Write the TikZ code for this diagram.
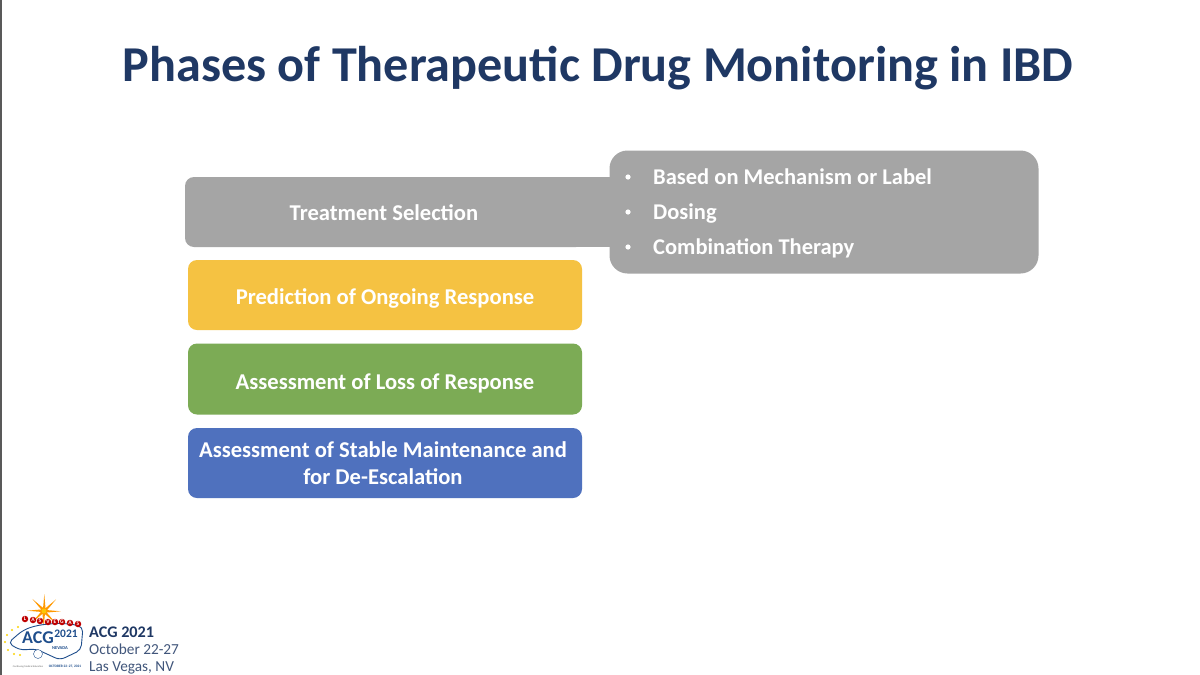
\documentclass[tikz,border=0pt]{standalone}
\usepackage{fontspec}
\setmainfont{Carlito}
\usetikzlibrary{positioning,shapes.geometric}
\definecolor{titleblue}{HTML}{1F3864}
\definecolor{boxgray}{HTML}{A5A5A5}
\definecolor{boxyellow}{HTML}{F5C242}
\definecolor{boxgreen}{HTML}{7CAB55}
\definecolor{boxblue}{HTML}{4F71BE}
\definecolor{acgblue}{HTML}{1F4E8C}
\tikzset{
	phase/.style={rounded corners=9pt, minimum width=394pt, minimum height=70pt, inner sep=0pt,
		align=center, text=white, font=\fontsize{22.6}{27.5}\selectfont\bfseries},
	oneline/.style={text depth=0pt, text height=#1},
	bulletline/.style={anchor=base west, inner sep=0pt, text=white, font=\fontsize{22.5}{25}\selectfont\bfseries},
	acgline/.style={inner sep=0pt, text=titleblue!85, font=\fontsize{15.3}{17}\selectfont},
}
\begin{document}
\begin{tikzpicture}[x=1pt, y=-1pt]
	\useasboundingbox (0,0) rectangle (1200,675);
	\fill[white] (0,0) rectangle (1200,675);
	\fill[black!65] (0,0) rectangle (1.6,675);

	%--- title ---
	\node[text=titleblue, inner sep=0pt, font=\fontsize{50.2}{55}\selectfont\bfseries] (title) at (598,68) {Phases of Therapeutic Drug Monitoring in IBD};

	%--- phase boxes ---
	\node[phase, fill=boxgray, minimum width=400pt] (select) at (385,212) {};
	\node[phase, oneline=19pt, fill=boxyellow] (predict) at (385,295) {Prediction of Ongoing Response};
	\node[phase, oneline=21pt, fill=boxgreen, minimum height=71pt] (loss) at (385,379) {Assessment of Loss of Response};
	\node[phase, fill=boxblue] (stable) at (385,463) {Assessment of Stable Maintenance and\hspace*{4pt}\\for De-Escalation\hspace*{4pt}};

	% gray detail box, runs into the first phase
	\node[rounded corners=18pt, fill=boxgray, minimum width=429pt, minimum height=123pt, inner sep=0pt] (detail) at (824,212) {};
	\fill[boxgray] (select.north) rectangle (detail.center |- select.south);
	\node[phase, oneline=15pt, minimum width=0pt, minimum height=0pt] (selecttext) at (384,213) {Treatment Selection};

	%--- bullet list ---
	\foreach \t [count=\k from 0] in {Based on Mechanism or Label,Dosing,Combination Therapy}{
		\node[bulletline] (item\k) at (653,184.5+35*\k) {\t};
		\fill[white] (628,177+35*\k) circle (2.6pt);
	}

	%--- conference logo ---
	\foreach \a in {0,45,...,315}{
		\fill[orange!80!yellow] (44,611) -- ++(\a+40:2.5) -- ++(\a-5:15) -- ++(\a-175:15) -- cycle;}
	\fill[yellow!60!orange] (44,611) circle (2.5pt);
	\draw[acgblue, fill=white, line width=0.9pt, rounded corners=5pt] (8,643) -- (22,631) .. controls (40,623) and (65,622) .. (83,627) -- (81,650) -- (60,660) -- (36,649) -- (20,650) -- cycle;
	% yellow bulbs along the left of the sign
	\foreach \x/\y in {5/642,7/635,12/630,18/627,8/650,14/654,20/655}{
		\fill[yellow!70!orange] (\x,\y) circle (1.2pt);}
	\foreach \c/\x/\y in {L/25/619,A/33/620,S/40/621,V/48/622,E/55/622,G/62/622,A/70/623,S/78/624}{
		\node[circle, fill=red!75!black, text=white, minimum size=6.5pt, inner sep=0pt, font=\fontsize{5.5}{6}\selectfont\bfseries] (lv\x) at (\x,\y) {\c};}
	\node[text=acgblue, inner sep=0pt, font=\fontsize{18}{18}\selectfont\bfseries] (acgmark) at (38,638) {ACG};
	\node[text=acgblue, inner sep=0pt, font=\fontsize{11.5}{12}\selectfont\bfseries] (yearmark) at (66,634) {2021};
	\node[text=acgblue, inner sep=0pt, font=\fontsize{4.5}{5}\selectfont\bfseries] (nevada) at (60,648) {NEVADA};
	\draw[acgblue, fill=white] (38,654) circle (4.5pt);
	\node[text=acgblue, inner sep=0pt, font=\fontsize{3.5}{4}\selectfont\bfseries] (logodate) at (65,667) {OCTOBER 22--27, 2021};
	\node[text=black!60, inner sep=0pt, font=\fontsize{2.5}{3}\selectfont] (logosub) at (28,667) {Continuing Medical Education};

	%--- conference text ---
	\node[acgline, anchor=west, text=titleblue, font=\fontsize{16.2}{17}\selectfont\bfseries] (acgname) at (89,632) {ACG 2021};
	\node[acgline, anchor=base west] (acgdate) at ([yshift=-17pt]acgname.base west) {October 22-27};
	\node[acgline, anchor=base west] (acgplace) at ([yshift=-17pt]acgdate.base west) {Las Vegas, NV};
\end{tikzpicture}
\end{document}
